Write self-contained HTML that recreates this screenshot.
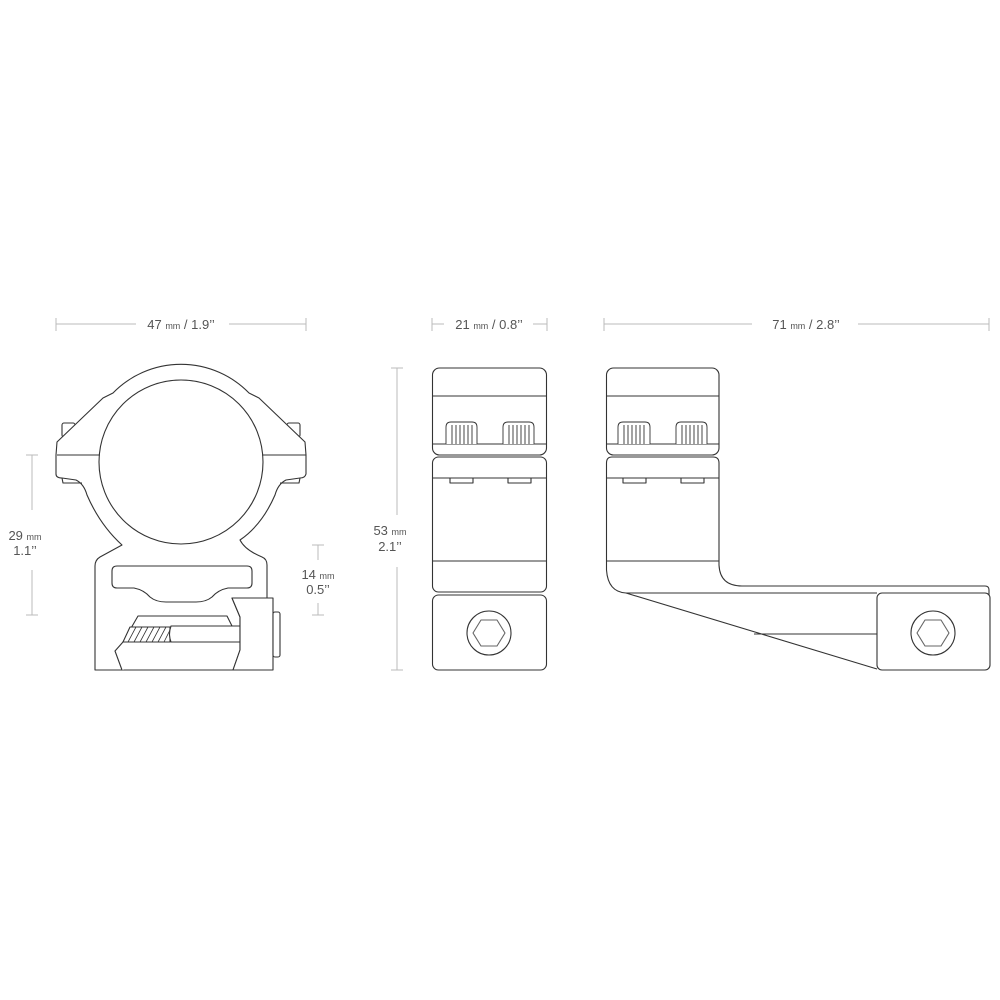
<!DOCTYPE html>
<html><head><meta charset="utf-8"><style>
html,body{margin:0;padding:0;background:#fff;}
svg{display:block}
text{font-family:"Liberation Sans",sans-serif;fill:#555;}
</style></head><body>
<svg width="1000" height="1000" viewBox="0 0 1000 1000" xmlns="http://www.w3.org/2000/svg">
<g stroke="#bbb" stroke-width="1" fill="none">
  <line x1="56" y1="324" x2="136" y2="324"/><line x1="229" y1="324" x2="306" y2="324"/>
  <line x1="56" y1="318" x2="56" y2="331"/><line x1="306" y1="318" x2="306" y2="331"/>
  <line x1="432" y1="324" x2="444" y2="324"/><line x1="533" y1="324" x2="547" y2="324"/>
  <line x1="432" y1="318" x2="432" y2="331"/><line x1="547" y1="318" x2="547" y2="331"/>
  <line x1="604" y1="324" x2="752" y2="324"/><line x1="858" y1="324" x2="989" y2="324"/>
  <line x1="604" y1="318" x2="604" y2="331"/><line x1="989" y1="318" x2="989" y2="331"/>
  <line x1="32" y1="455" x2="32" y2="510"/><line x1="32" y1="570" x2="32" y2="615"/>
  <line x1="26" y1="455" x2="38" y2="455"/><line x1="26" y1="615" x2="38" y2="615"/>
  <line x1="318" y1="545" x2="318" y2="560"/><line x1="318" y1="603" x2="318" y2="615"/>
  <line x1="312" y1="545" x2="324" y2="545"/><line x1="312" y1="615" x2="324" y2="615"/>
  <line x1="397" y1="368" x2="397" y2="515"/><line x1="397" y1="567" x2="397" y2="670"/>
  <line x1="391" y1="368" x2="403" y2="368"/><line x1="391" y1="670" x2="403" y2="670"/>
  <line x1="181" y1="382" x2="181" y2="440"/><line x1="181" y1="484" x2="181" y2="540"/>
  <line x1="175" y1="382" x2="187" y2="382"/><line x1="175" y1="540" x2="187" y2="540"/>
</g>
<g font-size="13">
  <text x="181" y="329" text-anchor="middle">47 <tspan font-size="9">mm</tspan> / 1.9’’</text>
  <text x="489" y="329" text-anchor="middle">21 <tspan font-size="9">mm</tspan> / 0.8’’</text>
  <text x="806" y="329" text-anchor="middle">71 <tspan font-size="9">mm</tspan> / 2.8’’</text>
  <text x="181" y="454" text-anchor="middle">Ø</text>
  <text x="181" y="472" text-anchor="middle">30 <tspan font-size="9">mm</tspan> / 1.2’’</text>
  <text x="25" y="540" text-anchor="middle">29 <tspan font-size="9">mm</tspan></text>
  <text x="25" y="555" text-anchor="middle">1.1’’</text>
  <text x="318" y="579" text-anchor="middle">14 <tspan font-size="9">mm</tspan></text>
  <text x="318" y="594" text-anchor="middle">0.5’’</text>
  <text x="390" y="535" text-anchor="middle">53 <tspan font-size="9">mm</tspan></text>
  <text x="390" y="551" text-anchor="middle">2.1’’</text>
</g>
<g stroke="#333" stroke-width="1.1" fill="none" stroke-linejoin="round">
  <rect x="62" y="423" width="13" height="14" rx="2"/>
  <rect x="287" y="423" width="13" height="14" rx="2"/>
  <path d="M113,393 A95,95 0 0 1 249,393 L259,398 L305,442 L306,455 L306,474 Q305,478 300,478 L286,480 Q278,484 275,495 Q262,525 240,540 Q245,550 262,557 Q267,559 267,565 L267,598 L232,598 L240,617 L240,650 L233,670 L95,670 L95,566 Q95,560 100,557 L122,545 Q100,525 87,495 Q84,484 76,480 L62,478 Q56,478 56,474 L56,455 L57,442 L103,398 Z" fill="#fff"/>
  <path d="M62,478 L63,483 L82,483 M300,478 L299,483 L280,483" />
  <circle cx="181" cy="462" r="82" fill="#fff"/>
  <line x1="57" y1="455" x2="100" y2="455"/><line x1="262" y1="455" x2="306" y2="455"/>
  <path d="M117,566 L247,566 Q252,566 252,571 L252,583 Q252,588 247,588 L228,588 Q218,590 212,597 Q206,602 196,602 L166,602 Q156,602 150,597 Q144,590 134,588 L117,588 Q112,588 112,583 L112,571 Q112,566 117,566 Z" fill="#fff"/>
  <path d="M122,670 L115,651 L123,642 L138,616 L227,616 L240,642" fill="#fff"/>
  <path d="M123,642 L130,627 L170,627 L170,642 Z" fill="#fff"/>
  <path d="M171,626 L240,626 L240,642 L171,642 Q168,634 171,626 Z" fill="#fff"/>
  <g stroke-width="0.8"><path d="M128,642 L136,627 M134,642 L142,627 M140,642 L148,627 M146,642 L154,627 M152,642 L160,627 M158,642 L166,627 M164,642 L170,630"/></g>
  <path d="M232,598 L273,598 L273,670 L233,670 L240,650 L240,617 Z" fill="#fff"/>
  <rect x="273" y="612" width="7" height="45" rx="2" fill="#fff"/>

  <rect x="432.5" y="368" width="114" height="87" rx="7" fill="#fff"/>
  <line x1="433" y1="396" x2="546" y2="396"/><line x1="433" y1="444" x2="546" y2="444"/>
  <rect x="432.5" y="457" width="114" height="135" rx="6" fill="#fff"/>
  <line x1="433" y1="478" x2="546" y2="478"/><line x1="433" y1="561" x2="546" y2="561"/>
  <path d="M450,478 V483 H473 V478 M508,478 V483 H531 V478"/>
  <rect x="432.5" y="595" width="114" height="75" rx="6" fill="#fff"/>
  <circle cx="489" cy="633" r="22"/>
  <polygon points="481,620 497,620 505,633 497,646 481,646 473,633" stroke="#666"/>

  <rect x="606.5" y="368" width="112.5" height="87" rx="7" fill="#fff"/>
  <line x1="607" y1="396" x2="719" y2="396"/><line x1="607" y1="444" x2="719" y2="444"/>
  <path d="M606.5,463 Q606.5,457 612,457 L713,457 Q719,457 719,463 L719,565 Q720,586 742,586 L985,586 Q989,586 989,590 L989,595 M606.5,463 L606.5,570 Q608,592 626,593 L877,593" fill="none"/>
  <line x1="607" y1="478" x2="719" y2="478"/><line x1="607" y1="561" x2="719" y2="561"/>
  <path d="M623,478 V483 H646 V478 M681,478 V483 H704 V478"/>
  <path d="M626,593 L877,669"/>
  <line x1="754" y1="634" x2="877" y2="634"/>
  <rect x="877" y="593" width="113" height="77" rx="5" fill="#fff"/>
  <circle cx="933" cy="633" r="22"/>
  <polygon points="925,620 941,620 949,633 941,646 925,646 917,633" stroke="#666"/>
</g>
<g stroke="#333" stroke-width="0.9" fill="#fff">
  <path d="M446,444 V427 Q446,422 451,422 H472 Q477,422 477,427 V444"/>
  <path d="M503,444 V427 Q503,422 508,422 H529 Q534,422 534,427 V444"/>
  <path d="M618,444 V427 Q618,422 623,422 H645 Q650,422 650,427 V444"/>
  <path d="M676,444 V427 Q676,422 681,422 H702 Q707,422 707,427 V444"/>
  <path d="M452,425V444M456,425V444M460,425V444M464,425V444M468,425V444M472,425V444
           M509,425V444M513,425V444M517,425V444M521,425V444M525,425V444M529,425V444
           M624,425V444M628,425V444M632,425V444M636,425V444M640,425V444M644,425V444
           M682,425V444M686,425V444M690,425V444M694,425V444M698,425V444M702,425V444" fill="none"/>
</g>
</svg>
</body></html>
